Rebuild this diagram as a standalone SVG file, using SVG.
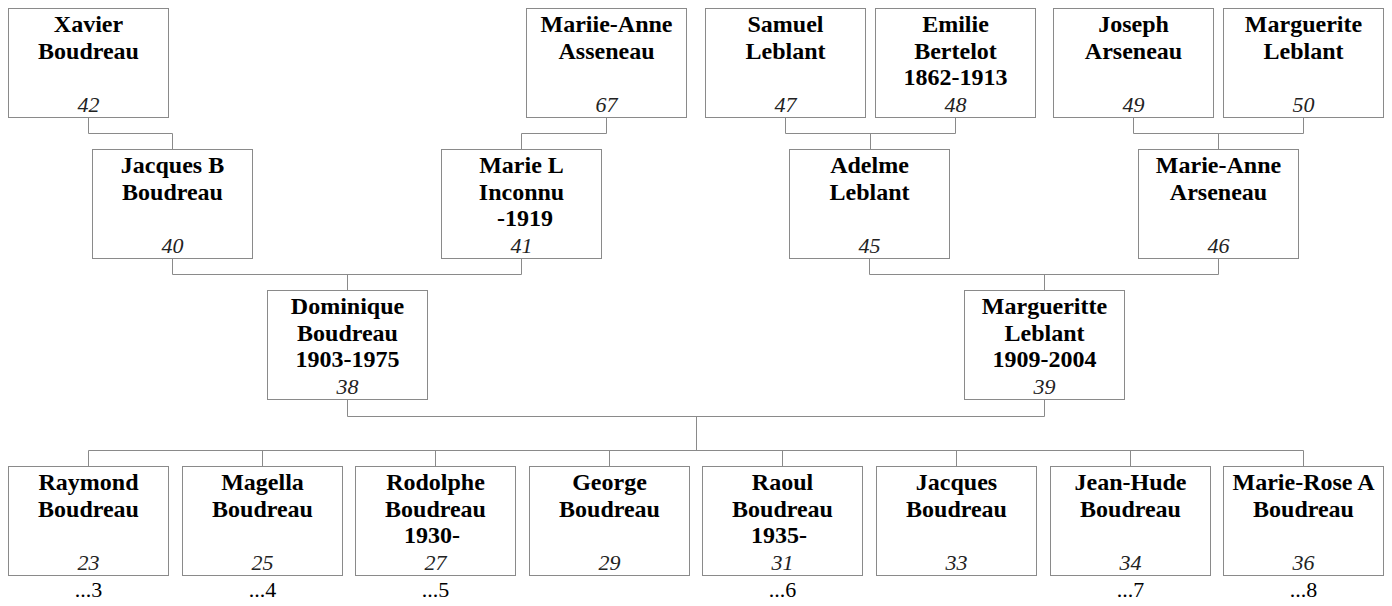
<svg xmlns="http://www.w3.org/2000/svg" width="1392" height="606" viewBox="0 0 1392 606">
<style>
.box{fill:#fff;stroke:#8a8a8a;stroke-width:1}
.n{font-family:"Liberation Serif","Times New Roman",serif;font-weight:bold;font-size:24px;fill:#000;text-anchor:middle}
.id{font-family:"Liberation Serif","Times New Roman",serif;font-style:italic;font-size:22px;fill:#222;text-anchor:middle}
.more{font-family:"Liberation Serif","Times New Roman",serif;font-size:22px;fill:#000;text-anchor:middle}
.con{fill:none;stroke:#8a8a8a;stroke-width:1}
</style>
<rect width="1392" height="606" fill="#fff"/>
<g id="connectors" class="con">
<path d="M88.5 117.5V133.5H172.5V149.5"/>
<path d="M606.5 117.5V133.5H521.5V149.5"/>
<path d="M785.5 117.5V133.5H955.5V117.5M870.5 133.5V149.5"/>
<path d="M1133.5 117.5V133.5H1303.5V117.5M1218.5 133.5V149.5"/>
<path d="M172.5 258.5V274.5H521.5V258.5M347.5 274.5V290.5"/>
<path d="M869.5 258.5V274.5H1218.5V258.5M1044.5 274.5V290.5"/>
<path d="M347.5 399.5V416.5H1044.5V399.5M696.5 416.5V450.5"/>
<path d="M88.5 466.5V450.5H1303.5V466.5M262.5 450.5V466.5M435.5 450.5V466.5M609.5 450.5V466.5M782.5 450.5V466.5M956.5 450.5V466.5M1130.5 450.5V466.5"/>
</g>
<g id="n42"><rect class="box" x="8.5" y="8.5" width="160" height="109"/><text class="n" x="88.5" y="32">Xavier</text><text class="n" x="88.5" y="58.7">Boudreau</text><text class="id" x="88.5" y="112">42</text></g>
<g id="n67"><rect class="box" x="526.5" y="8.5" width="160" height="109"/><text class="n" x="606.5" y="32">Mariie-Anne</text><text class="n" x="606.5" y="58.7">Asseneau</text><text class="id" x="606.5" y="112">67</text></g>
<g id="n47"><rect class="box" x="705.5" y="8.5" width="160" height="109"/><text class="n" x="785.5" y="32">Samuel</text><text class="n" x="785.5" y="58.7">Leblant</text><text class="id" x="785.5" y="112">47</text></g>
<g id="n48"><rect class="box" x="875.5" y="8.5" width="160" height="109"/><text class="n" x="955.5" y="32">Emilie</text><text class="n" x="955.5" y="58.7">Bertelot</text><text class="n" x="955.5" y="85.4">1862-1913</text><text class="id" x="955.5" y="112">48</text></g>
<g id="n49"><rect class="box" x="1053.5" y="8.5" width="160" height="109"/><text class="n" x="1133.5" y="32">Joseph</text><text class="n" x="1133.5" y="58.7">Arseneau</text><text class="id" x="1133.5" y="112">49</text></g>
<g id="n50"><rect class="box" x="1223.5" y="8.5" width="160" height="109"/><text class="n" x="1303.5" y="32">Marguerite</text><text class="n" x="1303.5" y="58.7">Leblant</text><text class="id" x="1303.5" y="112">50</text></g>
<g id="n40"><rect class="box" x="92.5" y="149.5" width="160" height="109"/><text class="n" x="172.5" y="173">Jacques B</text><text class="n" x="172.5" y="199.7">Boudreau</text><text class="id" x="172.5" y="253">40</text></g>
<g id="n41"><rect class="box" x="441.5" y="149.5" width="160" height="109"/><text class="n" x="521.5" y="173">Marie L</text><text class="n" x="521.5" y="199.7">Inconnu</text><text class="n" x="525" y="226.4">-1919</text><text class="id" x="521.5" y="253">41</text></g>
<g id="n45"><rect class="box" x="789.5" y="149.5" width="160" height="109"/><text class="n" x="869.5" y="173">Adelme</text><text class="n" x="869.5" y="199.7">Leblant</text><text class="id" x="869.5" y="253">45</text></g>
<g id="n46"><rect class="box" x="1138.5" y="149.5" width="160" height="109"/><text class="n" x="1218.5" y="173">Marie-Anne</text><text class="n" x="1218.5" y="199.7">Arseneau</text><text class="id" x="1218.5" y="253">46</text></g>
<g id="n38"><rect class="box" x="267.5" y="290.5" width="160" height="109"/><text class="n" x="347.5" y="314">Dominique</text><text class="n" x="347.5" y="340.7">Boudreau</text><text class="n" x="347.5" y="367.4">1903-1975</text><text class="id" x="347.5" y="394">38</text></g>
<g id="n39"><rect class="box" x="964.5" y="290.5" width="160" height="109"/><text class="n" x="1044.5" y="314">Margueritte</text><text class="n" x="1044.5" y="340.7">Leblant</text><text class="n" x="1044.5" y="367.4">1909-2004</text><text class="id" x="1044.5" y="394">39</text></g>
<g id="n23"><rect class="box" x="8.5" y="466.5" width="160" height="109"/><text class="n" x="88.5" y="490">Raymond</text><text class="n" x="88.5" y="516.7">Boudreau</text><text class="id" x="88.5" y="570">23</text><text class="more" x="88.5" y="597">...3</text></g>
<g id="n25"><rect class="box" x="182.5" y="466.5" width="160" height="109"/><text class="n" x="262.5" y="490">Magella</text><text class="n" x="262.5" y="516.7">Boudreau</text><text class="id" x="262.5" y="570">25</text><text class="more" x="262.5" y="597">...4</text></g>
<g id="n27"><rect class="box" x="355.5" y="466.5" width="160" height="109"/><text class="n" x="435.5" y="490">Rodolphe</text><text class="n" x="435.5" y="516.7">Boudreau</text><text class="n" x="432" y="543.4">1930-</text><text class="id" x="435.5" y="570">27</text><text class="more" x="435.5" y="597">...5</text></g>
<g id="n29"><rect class="box" x="529.5" y="466.5" width="160" height="109"/><text class="n" x="609.5" y="490">George</text><text class="n" x="609.5" y="516.7">Boudreau</text><text class="id" x="609.5" y="570">29</text></g>
<g id="n31"><rect class="box" x="702.5" y="466.5" width="160" height="109"/><text class="n" x="782.5" y="490">Raoul</text><text class="n" x="782.5" y="516.7">Boudreau</text><text class="n" x="779" y="543.4">1935-</text><text class="id" x="782.5" y="570">31</text><text class="more" x="782.5" y="597">...6</text></g>
<g id="n33"><rect class="box" x="876.5" y="466.5" width="160" height="109"/><text class="n" x="956.5" y="490">Jacques</text><text class="n" x="956.5" y="516.7">Boudreau</text><text class="id" x="956.5" y="570">33</text></g>
<g id="n34"><rect class="box" x="1050.5" y="466.5" width="160" height="109"/><text class="n" x="1130.5" y="490">Jean-Hude</text><text class="n" x="1130.5" y="516.7">Boudreau</text><text class="id" x="1130.5" y="570">34</text><text class="more" x="1130.5" y="597">...7</text></g>
<g id="n36"><rect class="box" x="1223.5" y="466.5" width="160" height="109"/><text class="n" x="1303.5" y="490">Marie-Rose A</text><text class="n" x="1303.5" y="516.7">Boudreau</text><text class="id" x="1303.5" y="570">36</text><text class="more" x="1303.5" y="597">...8</text></g>
</svg>
